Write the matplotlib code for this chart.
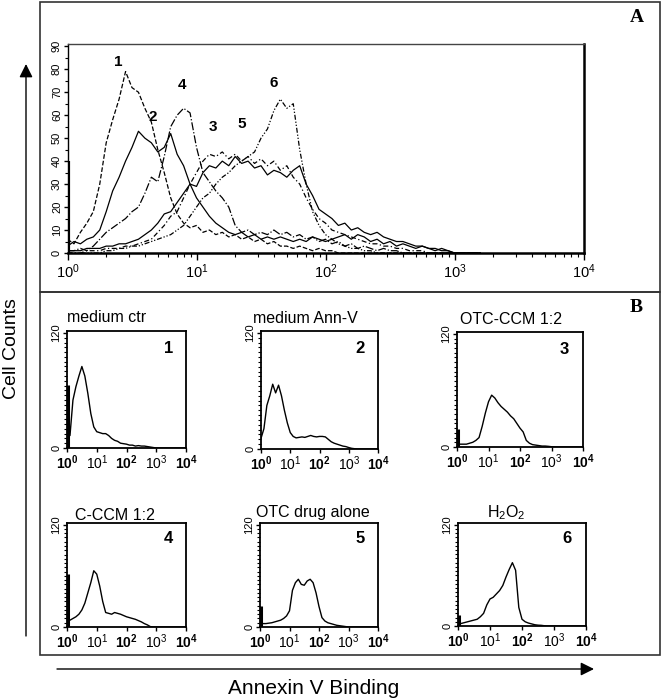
"""
plot.py - Annexin V binding histograms.

Panel A overlays the six flow-cytometry histograms, panel B shows each
condition on its own small log-scaled axes. Saved as out.png (661x700).
"""

import matplotlib
matplotlib.use("Agg")
import matplotlib.pyplot as plt
from matplotlib import font_manager
from matplotlib.patches import Rectangle
from matplotlib.ticker import FixedLocator, LogLocator, MultipleLocator, NullFormatter
import numpy as np

# ---------------------------------------------------------------- data --
# panel A: channel position in log10 units, counts per curve
CHANNELS_A = [0.00, 0.05, 0.10, 0.15, 0.20, 0.25, 0.30, 0.35, 0.40, 0.45,
              0.50, 0.55, 0.60, 0.65, 0.70, 0.75, 0.80, 0.85, 0.90, 0.95,
              1.00, 1.05, 1.10, 1.15, 1.20, 1.25, 1.30, 1.35, 1.40, 1.45,
              1.50, 1.55, 1.60, 1.65, 1.70, 1.75, 1.80, 1.85, 1.90, 1.95,
              2.00, 2.05, 2.10, 2.15, 2.20, 2.25, 2.30, 2.35, 2.40, 2.45,
              2.50, 2.55, 2.60, 2.65, 2.70, 2.75, 2.80, 2.85, 2.90, 2.95,
              3.00, 3.05, 3.10, 3.15, 3.20]

A_CURVE_1 = [6, 4, 9, 13, 18, 30, 48, 58, 67, 79,
             72, 70, 63, 57, 45, 35, 24, 17, 13, 11,
             12, 9, 10, 8, 9, 7, 8, 6, 7, 5,
             6, 4, 5, 3, 3, 2, 3, 2, 1, 2,
             1, 1, 0, 0, 0, 0, 0, 0, 0, 0,
             0, 0, 0, 0, 0, 0, 0, 0, 0, 0,
             0, 0, 0, 0, 0]
A_CURVE_2 = [3, 5, 4, 6, 7, 10, 18, 27, 33, 40,
             46, 53, 50, 48, 44, 46, 52, 43, 38, 30,
             24, 20, 16, 13, 11, 9, 8, 9, 7, 8,
             6, 7, 6, 7, 6, 5, 6, 5, 7, 6,
             5, 6, 7, 8, 6, 8, 7, 5, 6, 4,
             5, 3, 4, 3, 2, 3, 2, 1, 2, 1,
             0, 0, 0, 0, 0]
A_CURVE_3 = [0, 0, 0, 1, 1, 1, 2, 2, 2, 3,
             3, 4, 5, 6, 9, 12, 16, 18, 24, 30,
             35, 40, 43, 42, 44, 41, 43, 40, 42, 39,
             41, 38, 40, 36, 38, 33, 30, 24, 19, 15,
             13, 10, 9, 8, 7, 6, 5, 4, 4, 3,
             3, 2, 2, 1, 1, 1, 0, 0, 0, 0,
             0, 0, 0, 0, 0]
A_CURVE_4 = [1, 1, 2, 1, 3, 6, 9, 11, 13, 15,
             18, 20, 26, 33, 31, 42, 55, 60, 63, 61,
             46, 35, 31, 27, 24, 20, 12, 9, 10, 8,
             9, 8, 10, 8, 9, 7, 8, 6, 7, 5,
             6, 4, 5, 3, 4, 2, 3, 2, 1, 2,
             1, 1, 0, 0, 0, 0, 0, 0, 0, 0,
             0, 0, 0, 0, 0]
A_CURVE_5 = [1, 1, 1, 2, 2, 2, 3, 3, 4, 4,
             5, 6, 8, 10, 13, 17, 18, 22, 26, 30,
             29, 35, 38, 37, 40, 38, 42, 39, 40, 37,
             38, 34, 36, 35, 33, 36, 38, 30, 25, 19,
             17, 15, 12, 13, 10, 11, 9, 8, 9, 7,
             6, 5, 5, 4, 3, 3, 2, 2, 1, 1,
             0, 0, 0, 0, 0]
A_CURVE_6 = [0, 0, 0, 0, 0, 0, 1, 1, 2, 2,
             3, 3, 4, 5, 6, 7, 8, 10, 12, 16,
             20, 24, 26, 30, 33, 35, 38, 40, 42, 44,
             50, 54, 62, 67, 63, 65, 45, 30, 18, 12,
             8, 6, 4, 3, 2, 2, 1, 1, 0, 0,
             0, 0, 0, 0, 0, 0, 0, 0, 0, 0,
             0, 0, 0, 0, 0]
A_FIRST_CHANNEL = 40          # pile-up in the first channel
A_LABELS = ["1", "2", "3", "4", "5", "6"]

# panel B: one histogram per condition
CHANNELS_B = [0.0, 0.1, 0.2, 0.3, 0.4, 0.5, 0.6, 0.7, 0.8, 0.9,
              1.0, 1.1, 1.2, 1.3, 1.4, 1.5, 1.6, 1.7, 1.8, 1.9,
              2.0, 2.1, 2.2, 2.3, 2.4, 2.5, 2.6, 2.7, 2.8, 2.9,
              3.0, 3.1, 3.2, 3.3, 3.4, 3.5, 3.6, 3.7, 3.8, 3.9, 4.0]

B_MEDIUM_CTR = [13, 13, 50, 64, 75, 85, 75, 57, 36, 22,
                17, 16, 15, 15, 13, 10, 8, 7, 5, 4.5,
                4, 3, 3, 2, 2.5, 2, 2, 1.5, 1, 0.5,
                0, 0, 0, 0, 0, 0, 0, 0, 0, 0, 0]
B_MEDIUM_ANNV = [11, 21, 45, 55, 67, 58, 66, 55, 40, 27,
                 17, 13, 11.5, 12, 12.5, 12, 13, 14, 13, 12.5,
                 13, 13, 12.5, 10, 7.5, 6, 5, 4, 3, 2.5,
                 1.5, 0.7, 0.3, 0, 0, 0, 0, 0, 0, 0, 0]
B_OTC_CCM = [3, 3, 3, 3, 4, 5, 7, 10, 22, 36,
             48, 55, 52, 47, 43, 40, 37, 33, 30, 25,
             20, 16, 7, 4, 2.5, 2, 1.5, 1, 1, 0.7,
             0.3, 0, 0, 0, 0, 0, 0, 0, 0, 0, 0]
B_C_CCM = [8, 8, 10, 12, 15, 20, 28, 40, 52, 66,
           62, 48, 30, 17, 16, 15, 17, 16, 15, 13.5,
           12, 11, 10, 9, 7.5, 6, 4, 2.5, 0.5, 0,
           0, 0, 0, 0, 0, 0, 0, 0, 0, 0, 0]
B_OTC_DRUG = [4, 4, 4, 4.5, 5, 6, 7, 8, 10, 13,
              19, 43, 52, 56, 50, 49, 54, 56, 52, 40,
              24, 11, 7, 5, 4, 3, 2, 1.5, 1, 0.5,
              0, 0, 0, 0, 0, 0, 0, 0, 0, 0, 0]
B_H2O2 = [3, 3, 4, 5, 6, 7, 8, 11, 15, 25,
          32, 34, 38, 42, 48, 58, 67, 75, 66, 22,
          8, 5, 3.5, 2.5, 1.5, 1, 0.8, 0.3, 0, 0,
          0, 0, 0, 0, 0, 0, 0, 0, 0, 0, 0]
B_FIRST_CHANNEL = [66, 0, 19, 62, 25, 13]
B_FIRST_CHANNEL_LOG = 0.04
B_TITLES = ["medium ctr", "medium Ann-V", "OTC-CCM 1:2",
            "C-CCM 1:2", "OTC drug alone", "H$_2$O$_2$"]
B_NUMBERS = ["1", "2", "3", "4", "5", "6"]

DECADE_LABELS = ["$10^{0}$", "$10^{1}$", "$10^{2}$", "$10^{3}$", "$10^{4}$"]

# -------------------------------------------------------------- layout --
W, H = 661, 700

# pixel boxes (left, top, right, bottom)
BOX_A = (67.5, 44, 583.5, 253)
BOXES_B = [(67, 331, 186, 448), (261, 331, 378, 449), (457, 332, 583, 447),
           (67, 523, 186, 627), (260, 523, 378, 627), (458, 523, 586, 626)]
# title anchor: x in axes fraction, baseline pixels above the box
TITLE_POS = [(0.0, 9), (-0.07, 8), (0.02, 8), (0.07, 3), (-0.03, 6), (0.23, 6)]

A_STYLES = ["--", "-", (0, (4, 2, 1, 2)), "-.", "-", (0, (4, 1.5, 1, 1.5, 1, 1.5))]
A_LABEL_POS = [(0.39, 80), (0.66, 56), (1.13, 52), (0.89, 70), (1.35, 53), (1.60, 71)]

names = {f.name for f in font_manager.fontManager.ttflist}
NARROW = "Liberation Sans Narrow" if "Liberation Sans Narrow" in names else "Liberation Sans"

plt.rcParams["font.family"] = ["Liberation Sans", "DejaVu Sans"]
plt.rcParams["mathtext.default"] = "regular"


def fig_rect(box):
    left, top, right, bottom = box
    return [left / W, 1 - bottom / H, (right - left) / W, (bottom - top) / H]


def style_panel_a(ax):
    ax.set_xscale("log")
    ax.set_xlim(1, 1e4)
    ax.set_ylim(0, 91)
    ax.xaxis.set_major_locator(FixedLocator([1, 10, 100, 1000, 10000]))
    ax.set_xticklabels(DECADE_LABELS)
    ax.xaxis.set_minor_locator(LogLocator(base=10, subs=np.arange(2, 10)))
    ax.xaxis.set_minor_formatter(NullFormatter())
    ax.yaxis.set_major_locator(MultipleLocator(10))
    ax.yaxis.set_minor_locator(MultipleLocator(5))
    for lab in ax.get_yticklabels():
        lab.set_rotation(90)
        lab.set_va("center")
    ax.tick_params(axis="x", which="major", length=5, width=1, labelsize=10.5, pad=2)
    ax.tick_params(axis="x", which="minor", length=3, width=0.8)
    ax.tick_params(axis="y", which="major", length=3, width=1, labelsize=8, pad=1)
    ax.tick_params(axis="y", which="minor", length=2, width=0.8)
    ax.spines["left"].set_linewidth(1.0)
    ax.spines["top"].set_linewidth(1.0)
    ax.spines["top"].set_color("#444444")
    ax.spines["right"].set_linewidth(1.8)
    ax.spines["bottom"].set_linewidth(1.8)


def style_panel_b(ax):
    ax.set_xscale("log")
    ax.set_xlim(1, 1e4)
    ax.set_ylim(0, 122)
    ax.xaxis.set_major_locator(FixedLocator([1, 10, 100, 1000, 10000]))
    ax.set_xticklabels(DECADE_LABELS)
    for i, lab in enumerate(ax.get_xticklabels()):
        lab.set_fontweight("bold" if i % 2 == 0 else "normal")
    ax.xaxis.set_minor_locator(LogLocator(base=10, subs=np.arange(2, 10)))
    ax.xaxis.set_minor_formatter(NullFormatter())
    ax.yaxis.set_major_locator(FixedLocator([0, 120]))
    ax.set_yticklabels(["0", "120"], rotation=90, va="center")
    ax.yaxis.set_minor_locator(MultipleLocator(5))
    ax.tick_params(axis="x", which="major", length=3, width=1, labelsize=10, pad=1)
    ax.tick_params(axis="y", which="major", length=3, width=1, labelsize=8, pad=1)
    ax.tick_params(axis="both", which="minor", length=2, width=0.8)
    for sp in ax.spines.values():
        sp.set_linewidth(1.3)


def main() -> None:
    fig = plt.figure(figsize=(W / 100, H / 100), dpi=100)

    # outer frames of panels A and B
    fig.add_artist(Rectangle((40 / W, 1 - 292 / H), 619.5 / W, 290 / H,
                             transform=fig.transFigure, fill=False,
                             lw=1.2, edgecolor="#333333"))
    fig.add_artist(Rectangle((40 / W, 1 - 655 / H), 619.5 / W, 363 / H,
                             transform=fig.transFigure, fill=False,
                             lw=1.2, edgecolor="#333333"))

    # ---- panel A
    ax = fig.add_axes(fig_rect(BOX_A))
    xa = 10 ** np.array(CHANNELS_A)
    curves = [A_CURVE_1, A_CURVE_2, A_CURVE_3, A_CURVE_4, A_CURVE_5, A_CURVE_6]
    for ys, ls in zip(curves, A_STYLES):
        ax.plot(xa, ys, color="black", lw=0.9, linestyle=ls)
    ax.vlines(1.0, 0, A_FIRST_CHANNEL, color="black", lw=3)
    for lab, (lx, ly) in zip(A_LABELS, A_LABEL_POS):
        ax.text(10 ** lx, ly, lab, fontsize=11, fontweight="bold",
                ha="center", va="bottom")
    style_panel_a(ax)

    # ---- panel B
    xb = 10 ** np.array(CHANNELS_B)
    panels = [B_MEDIUM_CTR, B_MEDIUM_ANNV, B_OTC_CCM, B_C_CCM, B_OTC_DRUG, B_H2O2]
    for i, ys in enumerate(panels):
        box = BOXES_B[i]
        axb = fig.add_axes(fig_rect(box))
        axb.plot(xb, ys, color="black", lw=1.0)
        if B_FIRST_CHANNEL[i]:
            axb.vlines(10 ** B_FIRST_CHANNEL_LOG, 0, B_FIRST_CHANNEL[i],
                       color="black", lw=2.2)
        style_panel_b(axb)
        tx, tpx = TITLE_POS[i]
        axb.text(tx, 1 + tpx / (box[3] - box[1]), B_TITLES[i],
                 transform=axb.transAxes, family=[NARROW, "DejaVu Sans"],
                 fontsize=11.5, ha="left", va="baseline")
        axb.text(0.85, 0.85, B_NUMBERS[i], transform=axb.transAxes,
                 fontsize=12, fontweight="bold", ha="center", va="center")

    # ---- panel letters
    fig.text(637 / W, 1 - 17 / H, "A", family=["Liberation Serif"],
             fontsize=14, fontweight="bold", ha="center", va="center")
    fig.text(636 / W, 1 - 307 / H, "B", family=["Liberation Serif"],
             fontsize=14, fontweight="bold", ha="center", va="center")

    # ---- axis arrows and titles
    fig.add_artist(plt.Annotation(
        "", xy=(26 / W, 1 - 64 / H), xytext=(26 / W, 1 - 636 / H),
        xycoords="figure fraction", textcoords="figure fraction",
        arrowprops=dict(arrowstyle="-|>", color="black", lw=1.0,
                        mutation_scale=20, shrinkA=0, shrinkB=0)))
    fig.add_artist(plt.Annotation(
        "", xy=(594 / W, 1 - 669 / H), xytext=(57 / W, 1 - 669 / H),
        xycoords="figure fraction", textcoords="figure fraction",
        arrowprops=dict(arrowstyle="-|>", color="black", lw=1.0,
                        mutation_scale=20, shrinkA=0, shrinkB=0)))
    fig.text(12 / W, 1 - 349 / H, "Cell Counts", rotation=90,
             fontsize=14, ha="center", va="center")
    fig.text(314 / W, 1 - 688 / H, "Annexin V Binding",
             fontsize=15, ha="center", va="center")

    fig.savefig("out.png", dpi=100)
    plt.close(fig)


if __name__ == "__main__":
    main()
